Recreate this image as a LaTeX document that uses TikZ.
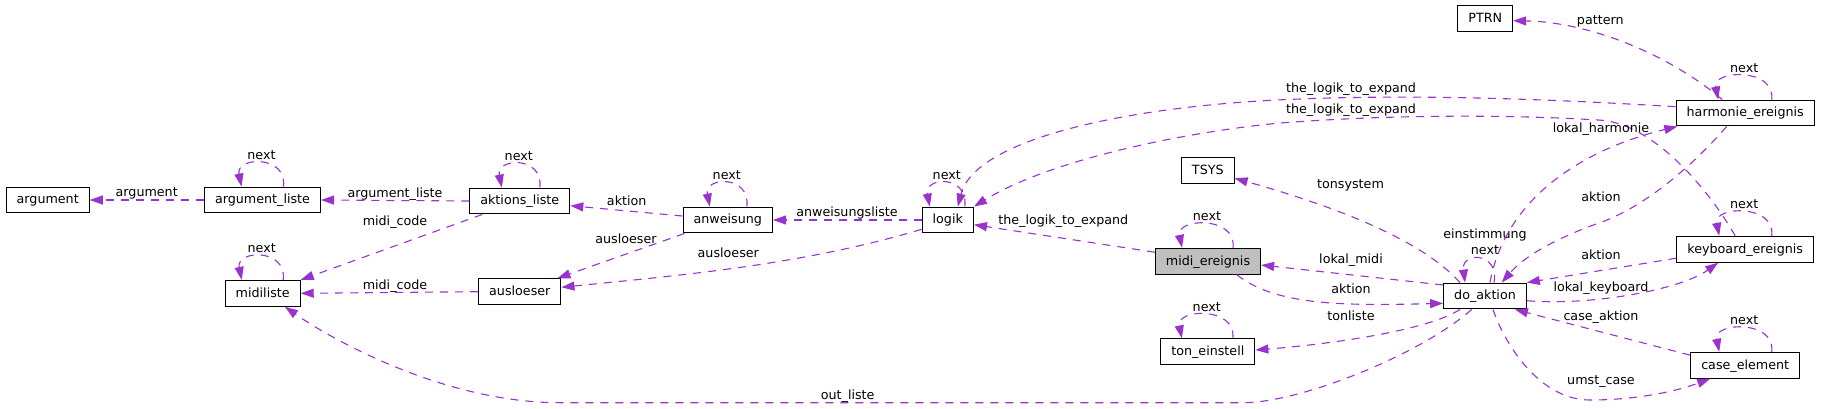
\documentclass[tikz,border=0pt]{standalone}
\usepackage{fontspec}
\setmainfont{DejaVu Sans}
\usepackage{tikz}
\definecolor{dxorchid}{HTML}{9A32CD}
\definecolor{dxroot}{HTML}{BFBFBF}
\usetikzlibrary{arrows.meta}
\tikzset{
	cnode/.style={draw=black, fill=white, line width=1.1pt, inner xsep=10.5pt, inner ysep=0pt,
		minimum height=25.8pt, text height=9.6pt, text depth=2pt,
		font=\fontsize{12.7pt}{16pt}\selectfont},
	rnode/.style={cnode, fill=dxroot},
	carr/.style={-{Triangle[length=13pt,width=9pt]}, line width=1.1pt, draw=dxorchid,
		dash pattern=on 8pt off 7pt},
	elab/.style={inner sep=0pt, text height=9.6pt, text depth=2pt,
		font=\fontsize{12.7pt}{16pt}\selectfont},
	elabtwo/.style={inner sep=0pt, align=center, font=\fontsize{12.7pt}{16pt}\selectfont}
}

\begin{document}
\begin{tikzpicture}[x=1pt, y=-1pt]
	\useasboundingbox (0,0) rectangle (1821,408);

	% classes
	\node[cnode] (arg) at (47.7,200) {argument};
	\node[cnode] (argl) at (262.5,200) {argument\_liste};
	\node[cnode] (akl) at (519.8,201) {aktions\_liste};
	\node[cnode] (midil) at (262.7,293.3) {midiliste};
	\node[cnode] (ausl) at (519.8,291.7) {ausloeser};
	\node[cnode] (anw) at (727.8,220) {anweisung};
	\node[cnode] (logik) at (947.8,220) {logik};
	\node[cnode] (tsys) at (1207.8,170.3) {TSYS};
	\node[rnode] (midiev) at (1208,261.2) {midi\_ereignis};
	\node[cnode] (tonein) at (1207.8,351.8) {ton\_einstell};
	\node[cnode] (ptrn) at (1485.2,18.5) {PTRN};
	\node[cnode] (harm) at (1745.2,113) {harmonie\_ereignis};
	\node[cnode] (keyb) at (1745.2,249.2) {keyboard\_ereignis};
	\node[cnode] (doakt) at (1485,296) {do\_aktion};
	\node[cnode] (casel) at (1745.2,365.2) {case\_element};

	% self references
	\draw[carr] ([xshift=21pt]argl.north) .. controls +(4,-32) and +(-6,-30) .. ([xshift=-21pt]argl.north) node[elab] at ([xshift=-1pt,yshift=31pt]argl.north) {next};
	\draw[carr] ([xshift=20.5pt]midil.north) .. controls +(4,-32) and +(-6,-30) .. ([xshift=-21pt]midil.north) node[elab] at ([xshift=-1pt,yshift=31pt]midil.north) {next};
	\draw[carr] ([xshift=20pt]akl.north) .. controls +(4,-32) and +(-6,-30) .. ([xshift=-18pt]akl.north) node[elab] at ([xshift=-1pt,yshift=31pt]akl.north) {next};
	\draw[carr] ([xshift=19pt]anw.north) .. controls +(4,-32) and +(-6,-30) .. ([xshift=-18pt]anw.north) node[elab] at ([xshift=-1pt,yshift=31pt]anw.north) {next};
	\draw[carr] ([xshift=17pt]logik.north) .. controls +(4,-32) and +(-6,-30) .. ([xshift=-18pt]logik.north) node[elab] at ([xshift=-1pt,yshift=31pt]logik.north) {next};
	\draw[carr] ([xshift=25pt]midiev.north) .. controls +(4,-32) and +(-6,-30) .. ([xshift=-26pt]midiev.north) node[elab] at ([xshift=-1pt,yshift=31pt]midiev.north) {next};
	\draw[carr] ([xshift=25pt]tonein.north) .. controls +(4,-32) and +(-6,-30) .. ([xshift=-26pt]tonein.north) node[elab] at ([xshift=-1pt,yshift=31pt]tonein.north) {next};
	\draw[carr] ([xshift=26.5pt]harm.north) .. controls +(4,-32) and +(-6,-30) .. ([xshift=-27pt]harm.north) node[elab] at ([xshift=-1pt,yshift=31pt]harm.north) {next};
	\draw[carr] ([xshift=26.5pt]keyb.north) .. controls +(4,-32) and +(-6,-30) .. ([xshift=-26pt]keyb.north) node[elab] at ([xshift=-1pt,yshift=31pt]keyb.north) {next};
	\draw[carr] ([xshift=26.5pt]casel.north) .. controls +(4,-32) and +(-6,-30) .. ([xshift=-26pt]casel.north) node[elab] at ([xshift=-1pt,yshift=31pt]casel.north) {next};
	\draw[carr] ([xshift=9pt]doakt.north) .. controls +(6,-30) and +(-4,-32) .. ([xshift=-20pt]doakt.north) node[elabtwo] at (1485,242.2) {einstimmung\\next};

	% members
	\draw[carr] (argl.west) -- (arg.east) node[elab] at (146.7,193) {argument};
	\draw[carr] (akl.west) -- (argl.east) node[elab] at (395,194) {argument\_liste};
	\draw[carr] ([xshift=13pt]akl.south west) -- (midil.north east) node[elab] at (395,222) {midi\_code};
	\draw[carr] (ausl.west) -- (midil.east) node[elab] at (395,286) {midi\_code};
	\draw[carr] ([yshift=4pt]anw.west) -- ([yshift=-4.7pt]akl.east) node[elab] at (626.7,202) {aktion};
	\draw[carr] ([xshift=2pt]anw.south west) -- ([xshift=-4pt]ausl.north east) node[elab] at (626,240) {ausloeser};
	\draw[carr] (logik.west) -- (anw.east) node[elab] at (847,212.5) {anweisungsliste};
	\draw[carr] ([yshift=-9.3pt]logik.west) .. controls (802,265) and (682,275) .. ([yshift=4.4pt]ausl.east) node[elab] at (728.3,254) {ausloeser};
	\draw[carr] ([yshift=9pt]midiev.west) -- ([yshift=-4.7pt]logik.east) node[elab] at (1063.3,220.5) {the\_logik\_to\_expand};
	\draw[carr] ([yshift=6.3pt]harm.west) .. controls (1500,96) and (1380,95) .. (1276.7,100)
		.. controls (1120,108) and (975,140) .. ([xshift=10pt]logik.north) node[elab] at (1351,88.5) {the\_logik\_to\_expand};
	\draw[carr] ([xshift=-10pt]keyb.north) .. controls (1712,195) and (1655,122) .. (1598,120)
		.. controls (1500,114) and (1380,115) .. (1276.7,123.3)
		.. controls (1180,133) and (1050,160) .. (logik.north east) node[elab] at (1351,110) {the\_logik\_to\_expand};
	\draw[carr] ([xshift=-23pt]harm.north) .. controls (1670,55) and (1590,22) .. ([yshift=-2.2pt]ptrn.east) node[elab] at (1600.3,20.5) {pattern};
	\draw[carr] ([xshift=5pt]doakt.north) .. controls (1505,200) and (1580,150) .. ([xshift=1.7pt]harm.south west) node[elab] at (1601,128.5) {lokal\_harmonie};
	\draw[carr] ([xshift=-18.5pt]harm.south) .. controls (1691.7,166.7) and (1643,208.3) .. (1598,223.3)
		.. controls (1573,232.3) and (1530,250) .. ([xshift=16.7pt]doakt.north) node[elab] at (1601,198) {aktion};
	\draw[carr] ([yshift=-9pt]keyb.west) -- (doakt.north east) node[elab] at (1601,256) {aktion};
	\draw[carr] ([yshift=-4.7pt]doakt.east) .. controls (1590,306) and (1680,290) .. ([xshift=-27pt]keyb.south) node[elab] at (1601,287.5) {lokal\_keyboard};
	\draw[carr] ([yshift=10pt]casel.west) -- ([xshift=-12pt]doakt.south east) node[elab] at (1601,316.5) {case\_aktion};
	\draw[carr] ([xshift=8pt]doakt.south) .. controls (1505,345) and (1540,400) .. (1590,400)
		.. controls (1640,400) and (1680,390) .. ([xshift=-35pt]casel.south) node[elab] at (1601,380.5) {umst\_case};
	\draw[carr] ([xshift=-25pt]doakt.north) .. controls (1420,238) and (1330,205) .. ([yshift=-8pt]tsys.east) node[elab] at (1350.5,185) {tonsystem};
	\draw[carr] ([yshift=11pt]doakt.west) -- ([yshift=-3.8pt]midiev.east) node[elab] at (1351,259.5) {lokal\_midi};
	\draw[carr] ([xshift=28.7pt]midiev.south) .. controls (1275,305) and (1340,306) .. ([yshift=-7.3pt]doakt.west) node[elab] at (1351,289.5) {aktion};
	\draw[carr] ([xshift=-25pt]doakt.south) .. controls (1425,332) and (1320,345) .. ([yshift=1.8pt]tonein.east) node[elab] at (1351,317) {tonliste};
	\draw[carr] ([xshift=-13.3pt]doakt.south) .. controls (1420,355) and (1300,402.7) .. (1243,402.7) -- (560,402.7)
		.. controls (440,402.7) and (325,335) .. ([xshift=22.3pt]midil.south) node[elab] at (847.7,396) {out\_liste};
\end{tikzpicture}
\end{document}
